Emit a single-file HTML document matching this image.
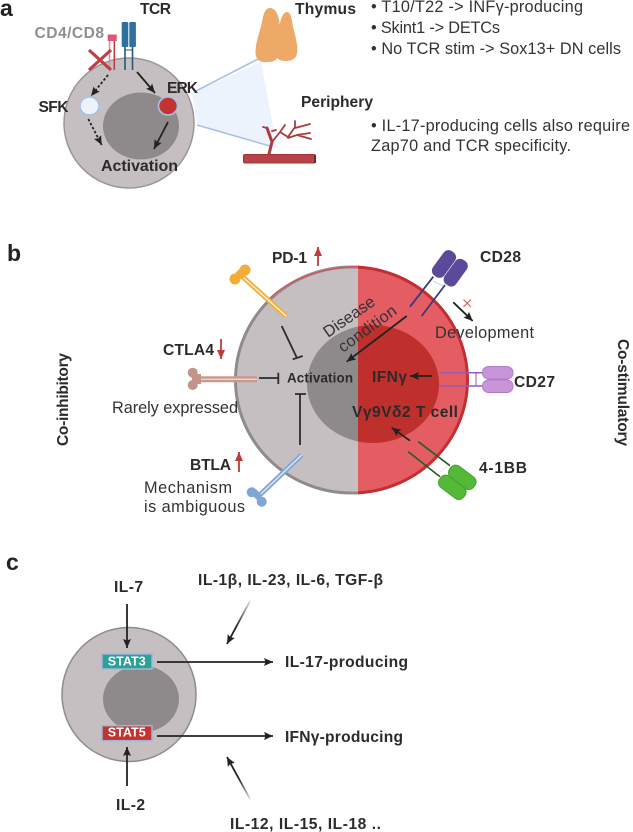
<!DOCTYPE html>
<html><head><meta charset="utf-8"><style>
html,body{margin:0;padding:0;background:#fff}
svg{display:block}
text{font-family:"Liberation Sans","DejaVu Sans",sans-serif;fill:#2b2b2b}
.b{font-weight:bold;font-size:15.6px}
.r{font-size:16.3px;fill:#333}
.p{font-weight:bold;font-size:23px;fill:#222}
</style></head><body>
<svg width="633" height="832" viewBox="0 0 633 832" xmlns="http://www.w3.org/2000/svg">
<defs>
<marker id="ah" markerWidth="10" markerHeight="10" refX="9" refY="4" orient="auto" markerUnits="userSpaceOnUse"><path d="M0 0L9 4L0 8L1.5 4Z" fill="#222"/></marker>
<marker id="ahr" markerWidth="10" markerHeight="10" refX="9" refY="4" orient="auto" markerUnits="userSpaceOnUse"><path d="M0 0L9 4L0 8Z" fill="#c0393b"/></marker>
<clipPath id="lc"><rect x="220" y="250" width="138" height="260"/></clipPath>
<clipPath id="rc"><rect x="358" y="250" width="130" height="260"/></clipPath>
<linearGradient id="g1" gradientUnits="userSpaceOnUse" x1="250" y1="601" x2="236" y2="627"><stop offset="0" stop-color="#222" stop-opacity=".15"/><stop offset="1" stop-color="#222"/></linearGradient>
<linearGradient id="g2" gradientUnits="userSpaceOnUse" x1="250" y1="799" x2="238" y2="778"><stop offset="0" stop-color="#222" stop-opacity=".15"/><stop offset="1" stop-color="#222"/></linearGradient>
</defs>

<!-- Panel a -->
<text class="p" x="0" y="16">a</text>
<polygon points="192,93 261,62 277,147 197,125" fill="#edf3fc"/>
<line x1="194" y1="92" x2="258" y2="59" stroke="#a9c1e6" stroke-width="1.600"/>
<line x1="197" y1="125" x2="270" y2="146" stroke="#a9c1e6" stroke-width="1.600"/>
<circle cx="129" cy="123" r="65" fill="#c5bfc1" stroke="#9b9698" stroke-width="1.500"/>
<ellipse cx="141" cy="126" rx="38" ry="33.500" fill="#8e8a8b"/>
<!-- thymus -->
<path d="M255.500 52C255.500 42 260 32 262 22C264 10 267 8 270 8C275 8 278 14 279 20C281 30 281 42 280 50C279 58 276 62 268 62C260 63 255.500 60 255.500 52Z" fill="#eca967"/>
<path d="M279 30C280 22 282 12 287 12C291 12 292 20 293 27C296 38 298 46 297 53C296 60 290 61 285 61C281 61 277 59 276 56C276 48 278 40 279 30Z" fill="#eea966"/>
<!-- vessel -->
<rect x="243.500" y="154.500" width="72" height="8.500" rx="1.500" fill="#b64347" stroke="#a13539" stroke-width="1"/>
<path d="M315 155V163" stroke="#5c2022" stroke-width="1.500"/>
<g fill="none" stroke="#a83c40" stroke-linecap="round">
<path d="M269 154L272 142L267 128" stroke-width="3"/>
<path d="M267 128L263 127M272 142L280 132L285 125M280 132L288 137L295 127L295 121M295 128L310 124M288 138L297 135L310 133M297 135L311 139M276 130L272 131" stroke-width="1.800"/>
</g>
<!-- CD4/CD8 -->
<line x1="109.500" y1="39" x2="109.500" y2="70" stroke="#d98ba3" stroke-width="1.500"/>
<line x1="114.300" y1="39" x2="114.300" y2="70" stroke="#c0393b" stroke-width="1.500"/>
<rect x="107.700" y="34.500" width="9" height="6.500" fill="#dd5773"/>
<path d="M89 50L111 70M111 50L89 70" stroke="#bf3f45" stroke-width="3.200"/>
<!-- TCR -->
<line x1="125" y1="45" x2="125" y2="70" stroke="#2c5872" stroke-width="1.600"/>
<line x1="132.500" y1="45" x2="132.500" y2="70" stroke="#2c5872" stroke-width="1.600"/>
<line x1="125" y1="50" x2="132.500" y2="50" stroke="#2c5872" stroke-width="1"/>
<rect x="121.700" y="22" width="6.600" height="25" rx="1" fill="#2f709d"/><rect x="129.300" y="22" width="6.600" height="25" rx="1" fill="#2f709d"/>
<!-- signalling -->
<line x1="108" y1="75" x2="91" y2="96" stroke="#222" stroke-width="1.800" stroke-dasharray="2.500 2" marker-end="url(#ah)"/>
<line x1="88.300" y1="119" x2="101.700" y2="145" stroke="#222" stroke-width="1.800" stroke-dasharray="2.500 2" marker-end="url(#ah)"/>
<line x1="137" y1="72" x2="155" y2="93" stroke="#222" stroke-width="1.800" marker-end="url(#ah)"/>
<line x1="168" y1="122" x2="154" y2="149" stroke="#222" stroke-width="1.800" marker-end="url(#ah)"/>
<ellipse cx="89.500" cy="106" rx="9.500" ry="9" fill="#edf3fc" stroke="#a9c1e6" stroke-width="1.600"/>
<ellipse cx="168" cy="106" rx="9.500" ry="9" fill="#c4332f" stroke="#a9c1e6" stroke-width="1.600"/>
<text class="b" x="34.500" y="38" textLength="69.500" style="fill:#8c8f94">CD4/CD8</text>
<text class="b" x="140" y="14" textLength="31">TCR</text>
<text class="b" x="38.500" y="112" textLength="30">SFK</text>
<text class="b" x="167" y="93" textLength="31">ERK</text>
<text x="101" y="171" textLength="77" style="font-weight:bold;font-size:16px">Activation</text>
<text class="b" x="295" y="14" textLength="61">Thymus</text>
<text class="b" x="301" y="107" textLength="72">Periphery</text>
<text class="r" x="371" y="12" textLength="212">• T10/T22 -&gt; INFγ-producing</text>
<text class="r" x="371" y="33" textLength="129">• Skint1 -&gt; DETCs</text>
<text class="r" x="371" y="54" textLength="250">• No TCR stim -&gt; Sox13+ DN cells</text>
<text class="r" x="371" y="131" textLength="259">• IL-17-producing cells also require</text>
<text class="r" x="371" y="151" textLength="200">Zap70 and TCR specificity.</text>

<!-- Panel b -->
<text class="p" x="7" y="261">b</text>
<g clip-path="url(#lc)">
<ellipse cx="351.500" cy="380" rx="116" ry="113" fill="#c5bfc1" stroke="#8f8b8d" stroke-width="3"/>
<ellipse cx="373" cy="384" rx="66" ry="59" fill="#8e8a8b"/>
</g>
<g clip-path="url(#rc)">
<ellipse cx="351.500" cy="380" rx="116" ry="113" fill="#e35d63" stroke="#c42e33" stroke-width="3"/>
<ellipse cx="373" cy="384" rx="66" ry="59" fill="#bf2f2c"/>
</g>
<path d="M268 300C290 278 325 267 358 266.500" fill="none" stroke="#cf5a60" stroke-width="1.500"/>

<!-- PD-1 -->
<line x1="241.700" y1="276" x2="286" y2="316" stroke="#eeb13f" stroke-width="5"/>
<line x1="241.700" y1="276" x2="286" y2="316" stroke="#fdeecb" stroke-width="1.400"/>
<circle cx="245" cy="270" r="5.500" fill="#f0ad37"/><circle cx="235" cy="279" r="5.500" fill="#f0ad37"/><rect x="237" y="270" width="9" height="7" fill="#f0ad37" transform="rotate(45 241 273)"/>
<!-- CTLA4 -->
<line x1="196" y1="379.300" x2="257" y2="379.300" stroke="#c79a8f" stroke-width="6"/>
<line x1="196" y1="379.300" x2="257" y2="379.300" stroke="#ecd6d0" stroke-width="1.300"/>
<circle cx="192.700" cy="372.700" r="5" fill="#c0958a"/><circle cx="192.700" cy="385" r="5" fill="#c0958a"/><rect x="192" y="374" width="9" height="10" fill="#c0958a"/>
<!-- BTLA -->
<line x1="301.700" y1="455" x2="258" y2="496.700" stroke="#82a5d3" stroke-width="5"/>
<line x1="301.700" y1="455" x2="258" y2="496.700" stroke="#e3edf9" stroke-width="1.300"/>
<circle cx="251.700" cy="492.300" r="5" fill="#7fa6d4"/><circle cx="261.700" cy="501.700" r="5" fill="#7fa6d4"/><rect x="252" y="491" width="9" height="7" fill="#7fa6d4" transform="rotate(45 256.500 494.500)"/>
<!-- inhibitory lines -->
<g stroke="#2b2b2b" stroke-width="1.800" fill="none">
<path d="M281.700 326L296.700 357.500M292.700 359.300L302.700 356"/>
<path d="M259 378H278.300M278.300 372.700V384"/>
<path d="M300 445V394M295 394H306"/>
</g>
<!-- CD28 -->
<line x1="433.300" y1="276.700" x2="410" y2="306.700" stroke="#3a3a7b" stroke-width="1.800"/>
<line x1="445" y1="285" x2="421.700" y2="316" stroke="#3a3a7b" stroke-width="1.800"/>
<line x1="433" y1="281" x2="443" y2="286" stroke="#d8d4ea" stroke-width="1.200"/>
<rect x="437" y="249" width="14" height="30" rx="6" fill="#5b4999" transform="rotate(36 444 264)"/>
<rect x="448.700" y="257.700" width="14" height="30" rx="6" fill="#5b4999" transform="rotate(36 455.700 272.700)"/>
<line x1="406.700" y1="316" x2="346.700" y2="361.700" stroke="#222" stroke-width="1.800" marker-end="url(#ah)"/>
<!-- CD27 -->
<line x1="439" y1="372.700" x2="483" y2="372.700" stroke="#9b59b6" stroke-width="1.500"/>
<line x1="439" y1="386" x2="483" y2="386" stroke="#9b59b6" stroke-width="1.500"/>
<line x1="476" y1="372.700" x2="476" y2="386" stroke="#9b59b6" stroke-width="1"/>
<rect x="482.500" y="366.500" width="30.500" height="12.500" rx="6" fill="#c795d8" stroke="#b07cc8"/>
<rect x="482.500" y="380" width="30.500" height="12.500" rx="6" fill="#c795d8" stroke="#b07cc8"/>
<line x1="432" y1="376" x2="410" y2="376" stroke="#222" stroke-width="1.800" marker-end="url(#ah)"/>
<!-- 4-1BB -->
<line x1="418.300" y1="441.700" x2="450" y2="465.700" stroke="#275d27" stroke-width="1.600"/>
<line x1="408.300" y1="451.700" x2="440" y2="476.700" stroke="#275d27" stroke-width="1.600"/>
<line x1="440" y1="471.700" x2="448" y2="465.700" stroke="#e4f2de" stroke-width="1.200"/>
<rect x="455.300" y="462.300" width="14" height="30" rx="6" fill="#54b838" stroke="#45a32c" transform="rotate(-53 462.300 477.300)"/>
<rect x="445.300" y="472.300" width="14" height="30" rx="6" fill="#54b838" stroke="#45a32c" transform="rotate(-53 452.300 487.300)"/>
<line x1="410" y1="440.700" x2="391.700" y2="427.700" stroke="#222" stroke-width="1.800" marker-end="url(#ah)"/>
<!-- development -->
<line x1="453.300" y1="302.300" x2="472.700" y2="321" stroke="#222" stroke-width="1.800" marker-end="url(#ah)"/>
<path d="M463.500 299.500L471 307M471 299.500L463.500 307" stroke="#d0545a" stroke-width="1"/>
<!-- red arrows -->
<line x1="318" y1="266" x2="318" y2="247" stroke="#c0393b" stroke-width="1.800" marker-end="url(#ahr)"/>
<line x1="221" y1="339" x2="221" y2="359" stroke="#c0393b" stroke-width="1.800" marker-end="url(#ahr)"/>
<line x1="239" y1="472" x2="239" y2="452" stroke="#c0393b" stroke-width="1.800" marker-end="url(#ahr)"/>
<!-- labels -->
<text class="b" x="272" y="263" textLength="35">PD-1</text>
<text class="b" x="163" y="355" textLength="51">CTLA4</text>
<text class="b" x="190" y="470" textLength="41">BTLA</text>
<text class="b" x="480" y="262" textLength="41">CD28</text>
<text class="b" x="514" y="387" textLength="41">CD27</text>
<text class="b" x="479" y="473" textLength="48">4-1BB</text>
<text x="287" y="382.700" textLength="66" style="font-weight:bold;font-size:13.400px">Activation</text>
<text class="b" x="372" y="382" textLength="35">IFNγ</text>
<text class="b" x="352" y="417" textLength="106">Vγ9Vδ2 T cell</text>
<text class="r" x="435" y="338" textLength="99">Development</text>
<text class="r" x="112" y="413" textLength="126">Rarely expressed</text>
<text class="r" x="144" y="493" textLength="88">Mechanism</text>
<text class="r" x="144" y="512" textLength="101">is ambiguous</text>
<text class="r" transform="translate(328 338) rotate(-35)" textLength="59">Disease</text>
<text class="r" transform="translate(343 353) rotate(-36)" textLength="68">condition</text>
<text class="b" transform="translate(68 446) rotate(-90)" textLength="93">Co-inhibitory</text>
<text class="b" transform="translate(618 339) rotate(90)" textLength="107">Co-stimulatory</text>

<!-- Panel c -->
<text class="p" x="6" y="570">c</text>
<circle cx="129" cy="694.500" r="67" fill="#c5bfc1" stroke="#8f8b8d" stroke-width="1.500"/>
<ellipse cx="141" cy="699" rx="38" ry="33.500" fill="#8e8a8b"/>
<rect x="102" y="654" width="50" height="15" fill="#2ba097" stroke="#9db7dc" stroke-width="1.500"/>
<text x="107.700" y="665.700" textLength="38" style="fill:#fff;font-weight:bold;font-size:12.500px">STAT3</text>
<rect x="102" y="725.700" width="50" height="15" fill="#c4332f" stroke="#9db7dc" stroke-width="1.500"/>
<text x="107.700" y="736.700" textLength="38" style="fill:#fff;font-weight:bold;font-size:12.500px">STAT5</text>
<line x1="127" y1="604" x2="127" y2="648" stroke="#222" stroke-width="1.800" marker-end="url(#ah)"/>
<line x1="127" y1="786" x2="127" y2="747" stroke="#222" stroke-width="1.800" marker-end="url(#ah)"/>
<line x1="157" y1="662" x2="273" y2="662" stroke="#222" stroke-width="1.800" marker-end="url(#ah)"/>
<line x1="157" y1="736" x2="273" y2="736" stroke="#222" stroke-width="1.800" marker-end="url(#ah)"/>
<line x1="250" y1="601" x2="227" y2="644" stroke="url(#g1)" stroke-width="1.800" marker-end="url(#ah)"/>
<line x1="250" y1="799" x2="227" y2="757" stroke="url(#g2)" stroke-width="1.800" marker-end="url(#ah)"/>
<text class="b" x="114" y="592" textLength="29">IL-7</text>
<text class="b" x="116" y="810" textLength="29">IL-2</text>
<text class="b" x="198" y="585" textLength="185">IL-1β, IL-23, IL-6, TGF-β</text>
<text class="b" x="285" y="667" textLength="123">IL-17-producing</text>
<text class="b" x="285" y="742" textLength="118">IFNγ-producing</text>
<text class="b" x="230" y="829" textLength="151">IL-12, IL-15, IL-18 ..</text>
</svg>
</body></html>
